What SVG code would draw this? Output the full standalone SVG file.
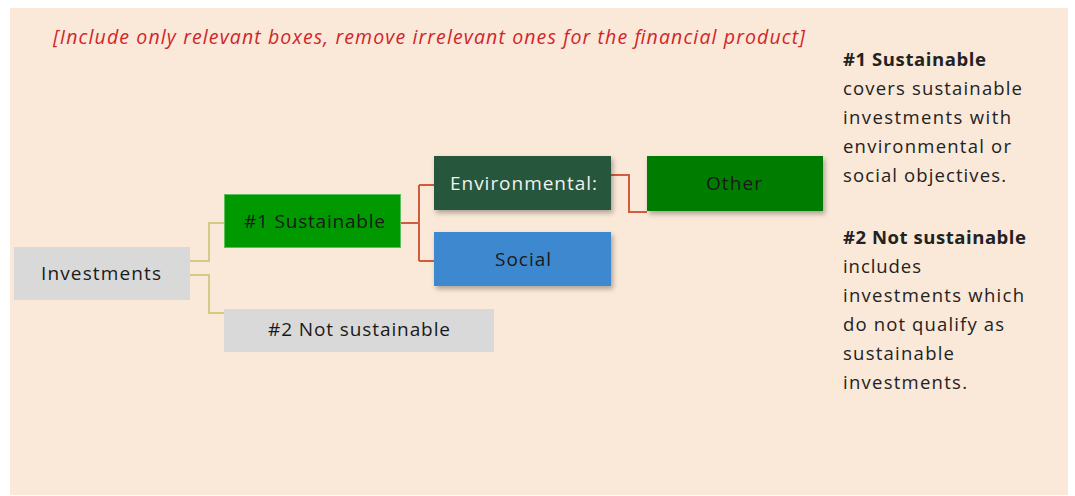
<svg xmlns="http://www.w3.org/2000/svg" width="1075" height="496" viewBox="0 0 1075 496">
  <defs>
    <filter id="sh" x="-10%" y="-20%" width="130%" height="160%">
      <feDropShadow dx="2" dy="3" stdDeviation="2.5" flood-color="#000" flood-opacity="0.3"/>
    </filter>
    <style>
      .lbl { font-family: "Open Sans", "Liberation Sans", sans-serif; font-size: 19px; fill: #1a1a1a; }
      .side { font-family: "Open Sans", "Liberation Sans", sans-serif; font-size: 18.5px; fill: #222; }
      .b { font-weight: bold; }
      .y { fill: none; stroke: #D6C985; stroke-width: 2; }
      .r { fill: none; stroke: #D45A3C; stroke-width: 2; }
    </style>
  </defs>
  <rect x="0" y="0" width="1075" height="496" fill="#ffffff"/>
  <rect x="10" y="8" width="1058" height="487" fill="#FAE8D8"/>

  <text x="53" y="44" textLength="752" lengthAdjust="spacing" font-family="Open Sans, Liberation Sans, sans-serif" font-style="italic" font-size="19.5" fill="#D0262B">[Include only relevant boxes, remove irrelevant ones for the financial product]</text>

  <g id="connectors">
    <path class="y" d="M190,261 H209 V223 H224"/>
    <path class="y" d="M190,275 H209 V313 H224"/>
    <path class="r" d="M401,223 H419"/>
    <path class="r" d="M419,185 V261"/>
    <path class="r" d="M419,185 H434"/>
    <path class="r" d="M419,261 H434"/>
    <path class="r" d="M611,175 H629 V212 H647"/>
  </g>

  <g id="investments">
    <rect x="14" y="247" width="176" height="53" fill="#D9D9D9"/>
    <text class="lbl" x="41" y="280" textLength="120" lengthAdjust="spacing">Investments</text>
  </g>
  <g id="sustainable">
    <rect x="224.5" y="194.5" width="176" height="53" fill="#009900" stroke="#5cbf5c" stroke-width="1"/>
    <text class="lbl" x="244" y="228" textLength="141" lengthAdjust="spacing">#1 Sustainable</text>
  </g>
  <g id="not-sustainable">
    <rect x="224" y="309" width="270" height="43" fill="#D9D9D9"/>
    <text class="lbl" x="268" y="336" textLength="182" lengthAdjust="spacing">#2 Not sustainable</text>
  </g>
  <g id="environmental">
    <rect x="434" y="156" width="177" height="54" fill="#26573A" filter="url(#sh)"/>
    <text class="lbl" x="450" y="190" textLength="147" lengthAdjust="spacing" style="fill:#f2f2f2">Environmental:</text>
  </g>
  <g id="social">
    <rect x="434" y="232" width="177" height="54" fill="#3E88CF" filter="url(#sh)"/>
    <text class="lbl" x="495" y="266" textLength="56" lengthAdjust="spacing">Social</text>
  </g>
  <g id="other">
    <rect x="647" y="156" width="176" height="55" fill="#007D00" filter="url(#sh)"/>
    <text class="lbl" x="706" y="190" textLength="56" lengthAdjust="spacing">Other</text>
  </g>

  <g id="legend">
    <text class="side b" x="843" y="66" textLength="143" lengthAdjust="spacing">#1 Sustainable</text>
    <text class="side" x="843" y="95" textLength="179" lengthAdjust="spacing">covers sustainable</text>
    <text class="side" x="843" y="124" textLength="168" lengthAdjust="spacing">investments with</text>
    <text class="side" x="843" y="153" textLength="168" lengthAdjust="spacing">environmental or</text>
    <text class="side" x="843" y="182" textLength="163" lengthAdjust="spacing">social objectives.</text>
    <text class="side b" x="843" y="244" textLength="183" lengthAdjust="spacing">#2 Not sustainable</text>
    <text class="side" x="843" y="273" textLength="78" lengthAdjust="spacing">includes</text>
    <text class="side" x="843" y="302" textLength="181" lengthAdjust="spacing">investments which</text>
    <text class="side" x="843" y="331" textLength="161" lengthAdjust="spacing">do not qualify as</text>
    <text class="side" x="843" y="360" textLength="111" lengthAdjust="spacing">sustainable</text>
    <text class="side" x="843" y="389" textLength="124" lengthAdjust="spacing">investments.</text>
  </g>
</svg>
